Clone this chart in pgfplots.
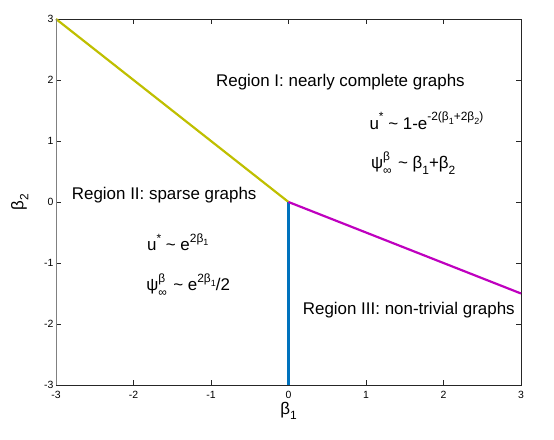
\documentclass[border=0pt]{standalone}
\usepackage{fontspec}
\setmainfont{Liberation Sans}
\usepackage{pgfplots}
\pgfplotsset{compat=1.18}
\definecolor{mlYel}{RGB}{191,191,0}
\definecolor{mlBlue}{RGB}{0,114,189}
\definecolor{mlMag}{RGB}{191,0,191}
% MATLAB-like raised / lowered pieces
\newcommand{\up}[1]{\raisebox{0.5em}{\fontsize{12}{12}\selectfont #1}}
\newcommand{\dn}[1]{\raisebox{-0.3em}{\fontsize{12}{12}\selectfont #1}}
\newcommand{\dnn}[1]{\raisebox{-0.3em}{\fontsize{9}{9}\selectfont #1}}
\newcommand{\psiinf}{ψ\rlap{\up{β}}\dn{∞}\hspace{0.1em}}
\begin{document}
\begin{tikzpicture}
\begin{axis}[scale only axis, width=465bp, height=366bp,
  xmin=-3, xmax=3, ymin=-3, ymax=3,
  xtick={-3,...,3}, ytick={-3,...,3},
  tick align=inside, major tick length=5bp,
  axis line style={black!85, line width=0.6pt},
  tick style={black!85, line width=0.6pt},
  tick label style={font=\fontsize{10.5}{10.5}\selectfont},
  /pgf/number format/assume math mode=true,
  xticklabel style={yshift=-3bp},
  yticklabel style={xshift=1bp},
  xlabel={\fontsize{17}{17}\selectfont β\dn{1}},
  ylabel={\fontsize{17}{17}\selectfont β\dn{2}},
  xlabel style={yshift=4bp},
  ylabel style={yshift=9bp},
  clip=false]
\addplot[mlYel, line width=2.2pt] coordinates {(-3,3) (0,0)};
\addplot[mlBlue, line width=2.6pt] coordinates {(0,0) (0,-3)};
\addplot[mlMag, line width=2.2pt] coordinates {(0,0) (3,-1.5)};
\draw[gray, line width=0.9pt] (rel axis cs:0,0) -- (rel axis cs:0,1);
\begin{scope}[every node/.style={font=\fontsize{17}{17}\selectfont}]
\node at (axis cs:0.67,1.97) {Region I: nearly complete graphs};
\node[anchor=west] at (axis cs:1.0,1.33) {u\up{*} \textasciitilde{} 1-e\up{-2(β\dnn{1}+2β\dnn{2})}};
\node[anchor=west] at (axis cs:1.02,0.64) {\psiinf{} \textasciitilde{} β\dn{1}+β\dn{2}};
\node[anchor=west] at (axis cs:-2.84,0.11) {Region II: sparse graphs};
\node[anchor=west] at (axis cs:-1.87,-0.66) {u\up{*} \textasciitilde{} e\up{2β\dnn{1}}};
\node[anchor=west] at (axis cs:-1.88,-1.36) {\psiinf{} \textasciitilde{} e\up{2β\dnn{1}}/2};
\node[anchor=west] at (axis cs:0.14,-1.77) {Region III: non-trivial graphs};
\end{scope}
\end{axis}
\pgfresetboundingbox
\path[use as bounding box] (-56bp,-55bp) rectangle (498bp,385bp);
\end{tikzpicture}
\end{document}
